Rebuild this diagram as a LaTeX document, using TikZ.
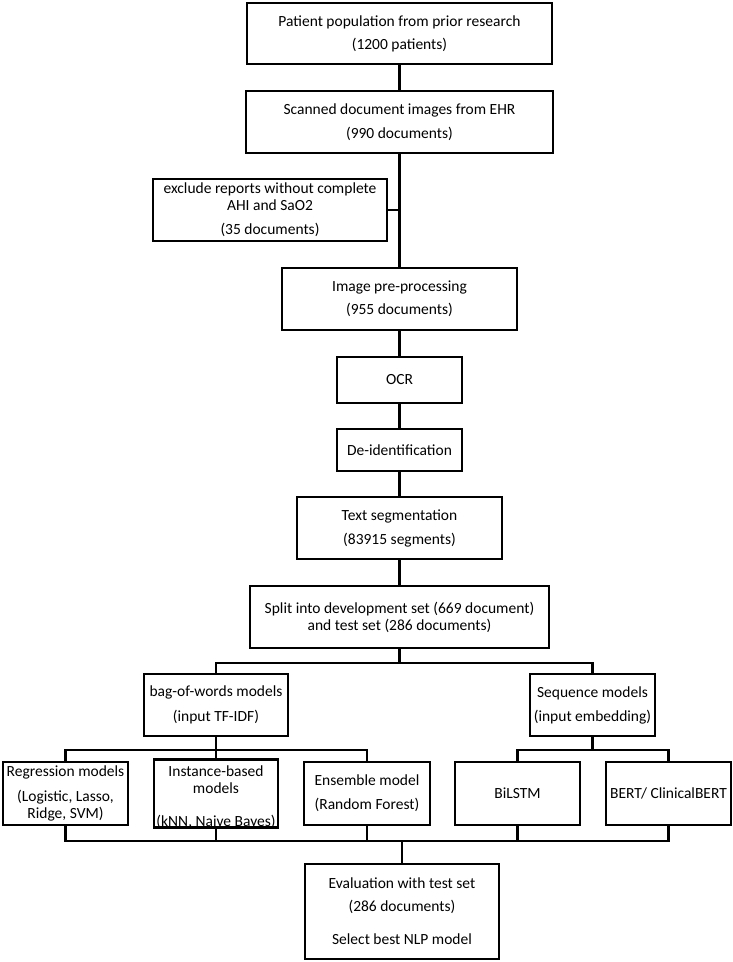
\documentclass[tikz,border=0pt]{standalone}
\usepackage{fontspec}
\setmainfont{Carlito}
\tikzset{
  box/.style={draw, line width=2.1pt, align=center, inner sep=1pt,
    font=\fontsize{15.5}{17}\selectfont},
  link/.style={line width=2.1pt}
}
\begin{document}
\begin{tikzpicture}[x=1pt, y=-1pt]
      \useasboundingbox (0,0) rectangle (733,962);

      \node[box, minimum width=305pt, minimum height=61pt] (pat) at (399.5, 33.5) {Patient population from prior research\\[6pt](1200 patients)};
      \node[box, minimum width=307pt, minimum height=62pt] (scan) at (399.5, 122) {Scanned document images from EHR\\[7pt](990 documents)};
      \node[box, minimum width=234pt, minimum height=62pt] (excl) at (270, 210) {exclude reports without complete\\AHI and SaO2\\[7pt](35 documents)};
      \node[box, minimum width=235pt, minimum height=62pt] (imgpre) at (399.5, 299) {Image pre-processing\\[6pt](955 documents)};
      \node[box, minimum width=125pt, minimum height=46pt] (ocr) at (399.5, 380) {OCR};
      \node[box, minimum width=125pt, minimum height=42pt] (deid) at (399.5, 450) {De-identification};
      \node[box, minimum width=205pt, minimum height=62pt] (seg) at (399.5, 528) {Text segmentation\\[7pt](83915 segments)};
      \node[box, minimum width=299pt, minimum height=62pt] (split) at (399.5, 617) {Split into development set (669 document)\\and test set (286 documents)};

      \node[box, minimum width=144pt, minimum height=62pt] (bow) at (216, 705) {bag-of-words models\\[8pt](input TF-IDF)};
      \node[box, minimum width=125pt, minimum height=62pt] (seq) at (592.5, 705) {Sequence models\\[7pt](input embedding)};

      \node[box, minimum width=125pt, minimum height=63pt] (reg) at (65.5, 793.5) {Regression models\\[8pt](Logistic, Lasso,\\Ridge, SVM)};
      \node[box, minimum width=124pt, minimum height=63pt, text height=66pt, text depth=-5pt] (inst) at (216, 793.5) {Instance-based\\models\\[16pt](kNN, Naive Bayes)};
      \node[box, minimum width=126pt, minimum height=63pt] (ens) at (367, 793.5) {Ensemble model\\[7pt](Random Forest)};
      \node[box, minimum width=125pt, minimum height=63pt] (bilstm) at (517.5, 793.5) {BiLSTM};
      \node[box, minimum width=125pt, minimum height=63pt] (bert) at (668.5, 793.5) {BERT/ ClinicalBERT};

      \node[box, minimum width=194pt, minimum height=95pt] (eval) at (402, 911.5) {Evaluation with test set\\[6pt](286 documents)\\[16pt]Select best NLP model};

      \draw[link] (pat) -- (scan);
      \draw[link] (scan) -- (imgpre);
      \draw[link] (excl.east) -- (excl.east -| scan.south);
      \draw[link] (imgpre) -- (ocr);
      \draw[link] (ocr) -- (deid);
      \draw[link] (deid) -- (seg);
      \draw[link] (seg) -- (split);

      \draw[link] (split.south) -- ++(0,14) coordinate (b1);
      \draw[link] (bow.north) |- (b1) -| (seq.north);

      \draw[link] (bow.south) -- ++(0,13) coordinate (b2);
      \draw[link] (reg.north) |- (b2) -| (ens.north);
      \draw[link] (b2) -- (inst.north);

      \draw[link] (seq.south) -- ++(0,13) coordinate (b3);
      \draw[link] (bilstm.north) |- (b3) -| (bert.north);

      \draw[link] (eval.north) -- ++(0,-22) coordinate (b4);
      \draw[link] (reg.south) |- (b4) -| (bert.south);
      \foreach \m in {inst, ens, bilstm}
        \draw[link] (\m.south) -- (\m.south |- b4);
\end{tikzpicture}
\end{document}
